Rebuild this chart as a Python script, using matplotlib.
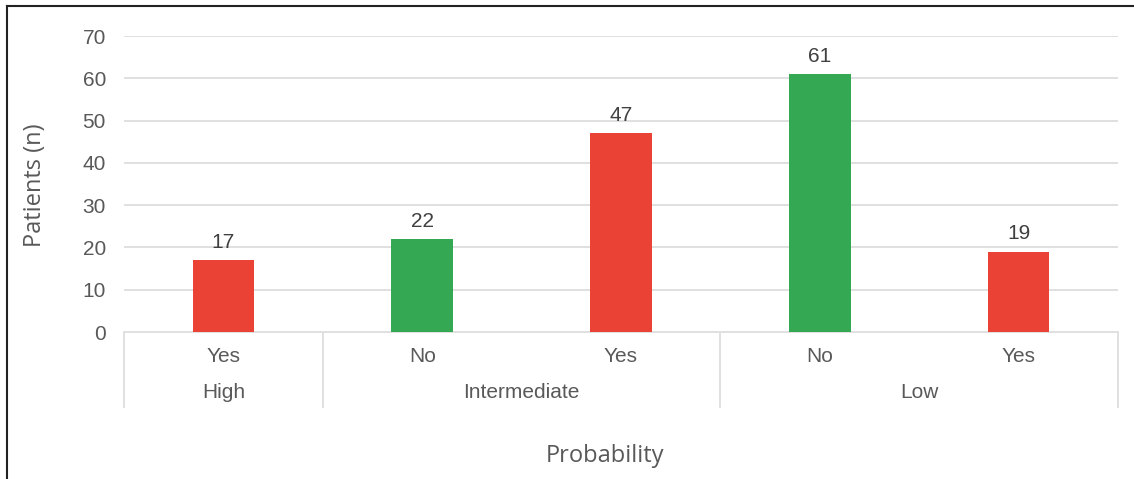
import matplotlib
matplotlib.use("Agg")
import matplotlib.pyplot as plt
from matplotlib.lines import Line2D
import matplotlib.transforms as mtransforms

# patients per probability group / outcome
probability = ["High", "Intermediate", "Intermediate", "Low", "Low"]
outcome = ["Yes", "No", "Yes", "No", "Yes"]
patients = [17, 22, 47, 61, 19]

colours = {"Yes": "#EA4335", "No": "#34A853"}
text_grey = "#595959"
line_grey = "#E0E0E0"
label_size = 15

W, H = 1134, 479
fig = plt.figure(figsize=(W / 100, H / 100), dpi=100)
fig.patch.set_facecolor("white")

# axes placed in pixel terms
x0, x1 = 124, 1118
y_top, y_zero = 36, 332
ax = fig.add_axes([x0 / W, 1 - y_zero / H, (x1 - x0) / W, (y_zero - y_top) / H])

xs = list(range(len(patients)))
ax.bar(xs, patients, width=0.31, color=[colours[o] for o in outcome], zorder=3)

for x, v in zip(xs, patients):
    ax.annotate(str(v), (x, v), xytext=(0, 6), textcoords="offset points",
                ha="center", va="bottom", fontsize=label_size, color="#404040",
                family="Liberation Sans")

ax.set_xlim(-0.5, len(patients) - 0.5)
ax.set_ylim(0, 70)
ax.set_yticks(range(0, 71, 10))
ax.yaxis.grid(True, color=line_grey, linewidth=1.4, zorder=0)
ax.set_xticks([])
ax.tick_params(axis="y", length=0, pad=13, labelsize=label_size, labelcolor=text_grey)
for lbl in ax.get_yticklabels():
    lbl.set_family("Liberation Sans")
for side in ["top", "right", "left"]:
    ax.spines[side].set_visible(False)
ax.spines["bottom"].set_color(line_grey)
ax.spines["bottom"].set_linewidth(1.4)

# two-level category axis below the bars
ppx = 1.0 / (y_zero - y_top)
trans = mtransforms.blended_transform_factory(ax.transData, ax.transAxes)
box_bottom = -(407 - y_zero) * ppx
for x, o in zip(xs, outcome):
    ax.text(x, -(356 - y_zero) * ppx, o, transform=trans, ha="center", va="center",
            fontsize=label_size, color=text_grey, family="Liberation Sans")

groups = []
for i, g in enumerate(probability):
    if groups and groups[-1][0] == g:
        groups[-1][2] = i
    else:
        groups.append([g, i, i])

edges = [groups[0][1] - 0.5] + [g[2] + 0.5 for g in groups]
for e in edges:
    ax.add_line(Line2D([e, e], [0, box_bottom], transform=trans, color=line_grey,
                       linewidth=1.4, clip_on=False))
for g, a, b in groups:
    ax.text((a + b) / 2, -(393 - y_zero) * ppx, g, transform=trans, ha="center",
            va="center", fontsize=label_size, color=text_grey, family="Liberation Sans")

fig.text(605 / W, 1 - 456 / H, "Probability", ha="center", va="center",
         fontsize=17, color=text_grey, family="Open Sans")
fig.text(35 / W, 1 - 185 / H, "Patients (n)", ha="center", va="center",
         rotation=90, fontsize=17, color=text_grey, family="Open Sans")

# outer frame (top and left edges)
fig.add_artist(Line2D([7 / W, 7 / W], [0, 1 - 6 / H], color="#222222", linewidth=1.5))
fig.add_artist(Line2D([7 / W, 1], [1 - 6 / H, 1 - 6 / H], color="#222222", linewidth=1.5))

fig.savefig("out.png", dpi=100)
